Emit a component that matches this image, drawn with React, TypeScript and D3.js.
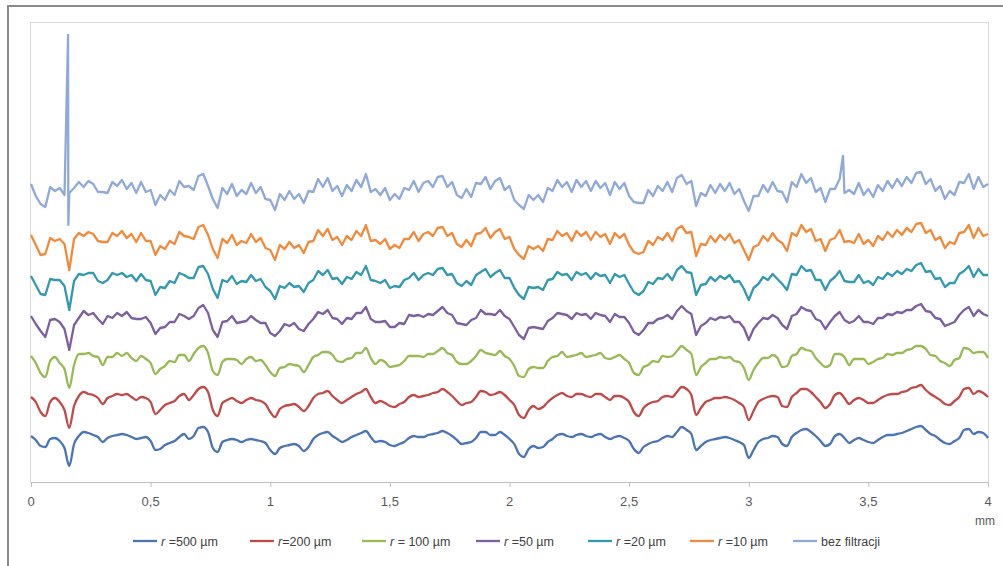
import React from "react";
import * as d3 from "d3";

// profile heights in 0.01 µm, sampled every 0.02 mm from 0 to 4 mm
const STEP_MM = 0.02;
const X_TICKS = [0, 0.5, 1, 1.5, 2, 2.5, 3, 3.5, 4];

const r500 = [
  4, 0, -6, -7, 1, 2, -1, -8, -26, -4, 4, 8, 7, 5, 3, -2, 2, 4, 5, 6,
  5, 3, 1, 2, 3, -1, -10, -9, -5, -3, -1, 3, 6, 1, 4, 12, 13, 8, -8, -12,
  -2, 0, 1, 0, -2, 0, 1, 0, -1, -3, -10, -14, -8, -6, -5, -4, -6, -11, -7, 1,
  5, 7, 8, 4, 1, -2, 0, 3, 5, 7, 9, 3, -2, -1, -2, -5, -6, -4, -2, 2,
  4, 3, 3, 5, 6, 7, 9, 7, 4, 0, -4, -3, -2, 2, 8, 8, 5, 5, 8, 5,
  1, -4, -14, -17, -9, -6, -8, -7, -2, 1, 5, 6, 4, 3, 5, 6, 4, 3, 5, 6,
  3, 1, 3, 4, 2, -1, -9, -13, -7, -4, -2, -1, 2, 4, 3, 8, 13, 10, 6, -10,
  -6, -2, 0, 1, 2, 3, 2, 0, -2, -5, -18, -10, -2, 1, 2, 4, 3, -4, -6, 3,
  7, 10, 11, 8, 4, -1, -6, -4, 4, 6, 2, -3, 0, 2, 0, -2, -3, 0, 3, 5,
  5, 6, 7, 9, 11, 13, 14, 10, 6, 4, 0, -3, -4, -1, 2, 10, 11, 6, 8, 7, 2,
];

const r200 = [
  3, -2, -12, -16, -2, 2, -2, -10, -28, -6, 4, 8, 6, 5, 2, -4, 2, 4, 6, 5,
  6, 3, 0, 3, 2, -2, -14, -10, -5, -3, -1, 4, 6, 0, 5, 11, 13, 8, -10, -16,
  -3, 0, 2, -1, -3, 0, 2, 0, -1, -4, -12, -17, -9, -6, -5, -4, -7, -11, -6, 2,
  6, 7, 9, 4, 0, -3, 0, 3, 6, 8, 11, 3, -3, -1, -3, -6, -7, -4, -2, 3,
  5, 3, 4, 5, 7, 8, 11, 8, 4, -1, -5, -3, -2, 3, 9, 8, 5, 6, 8, 5,
  0, -5, -15, -18, -10, -6, -9, -7, -2, 2, 5, 7, 4, 3, 6, 6, 4, 3, 6, 6,
  3, 0, 4, 4, 2, -2, -12, -16, -8, -4, -2, -1, 3, 4, 3, 8, 13, 11, 5, -15,
  -8, -2, 0, 2, 2, 3, 2, 0, -3, -7, -20, -11, -2, 1, 3, 4, 3, -6, -7, 3,
  7, 11, 11, 8, 3, -2, -8, -4, 5, 7, 2, -4, 0, 2, 0, -3, -3, 0, 3, 5,
  6, 6, 8, 9, 12, 13, 15, 10, 6, 3, 0, -4, -5, -1, 3, 11, 12, 6, 9, 7, 3,
];

const r100 = [
  4, -3, -13, -17, -1, 3, -3, -9, -28, -5, 6, 6, 7, 4, 3, -5, 3, 3, 7, 4,
  7, 2, -1, 4, 1, -3, -14, -9, -6, -1, -2, 5, 5, -1, 6, 12, 14, 7, -11, -15,
  -2, 1, 1, 0, -4, 1, 3, -1, 0, -5, -12, -16, -8, -7, -4, -5, -6, -12, -5, 3,
  5, 8, 8, 5, -1, -2, 1, 2, 7, 7, 12, 2, -4, 0, -2, -7, -6, -5, -1, 4,
  4, 4, 3, 6, 6, 9, 12, 7, 5, -2, -4, -4, -1, 4, 10, 7, 6, 5, 9, 4,
  1, -6, -16, -17, -9, -7, -8, -8, -1, 3, 4, 8, 3, 4, 5, 7, 3, 4, 5, 7,
  2, 1, 3, 5, 1, -3, -13, -15, -7, -5, -1, -2, 4, 3, 4, 9, 14, 10, 6, -15,
  -7, -3, 1, 1, 3, 2, 3, -1, -2, -8, -20, -10, -3, 2, 2, 5, 2, -7, -6, 4,
  6, 12, 10, 9, 2, -3, -7, -5, 6, 6, 3, -5, 1, 1, 1, -4, -2, 1, 2, 6,
  5, 7, 7, 10, 11, 14, 14, 11, 5, 4, -1, -3, -6, 0, 2, 12, 11, 7, 8, 8, 2,
];

const r50 = [
  4, -4, -11, -17, 0, 1, -2, -9, -30, -5, 2, 9, 5, 7, 1, -4, 4, 2, 7, 4,
  8, 2, 1, 1, 3, -3, -14, -8, -7, -2, -2, 6, 4, 1, 4, 12, 15, 7, -10, -17,
  -2, -1, 4, -3, -2, -1, 4, 0, -3, -3, -13, -16, -11, -4, -6, -3, -9, -11, -4, 1,
  8, 6, 10, 2, 1, -4, 2, 1, 7, 7, 13, 1, -2, -2, -1, -7, -7, -3, -4, 5,
  4, 5, 3, 6, 5, 9, 13, 7, 5, -3, -4, -5, 0, 2, 10, 6, 6, 5, 10, 4,
  1, -7, -15, -19, -8, -7, -8, -9, -1, 2, 7, 6, 5, 1, 7, 5, 6, 1, 7, 5,
  4, -2, 6, 3, 3, -3, -12, -15, -10, -3, -3, 1, 2, 5, 1, 9, 14, 9, 6, -15,
  -6, -3, 2, 0, 3, 2, 4, -2, -2, -8, -20, -9, -3, 2, 1, 5, 2, -5, -9, 4,
  6, 13, 10, 9, 1, -1, -9, -2, 4, 8, 0, -3, -1, 4, -2, -2, -4, 2, 2, 6,
  5, 8, 7, 10, 10, 14, 16, 9, 8, 2, 1, -6, -4, -2, 5, 10, 13, 4, 10, 6, 4,
];

const r20 = [
  4, -5, -14, -15, 1, 0, 0, -6, -30, -1, 6, 5, 7, 7, -1, -3, 0, 7, 5, 7,
  3, 5, -1, 6, 0, -1, -15, -7, -8, -1, -3, 7, 5, 2, 2, 13, 14, 6, -9, -18,
  0, -2, 4, -4, -1, -2, 5, -1, 1, -7, -11, -19, -6, -8, -3, -7, -6, -12, -3, 0,
  9, 5, 10, 1, 2, -4, 3, 1, 8, 5, 14, 0, -1, -3, 0, -8, -6, -7, 0, 2,
  7, 0, 5, 7, 5, 11, 12, 5, 6, -3, -6, -1, -5, 5, 8, 11, 3, 7, 10, 2,
  2, -8, -15, -19, -7, -8, -7, -10, 0, 1, 8, 5, 6, 0, 8, 5, 7, 1, 7, 4,
  5, -3, 6, 3, 5, -4, -12, -15, -11, -2, -4, 2, 1, 6, 0, 10, 14, 8, 7, -15,
  -5, -4, 3, -1, 4, 1, 5, -2, -1, -9, -20, -8, -4, 3, 0, 6, 1, -4, -10, 6,
  5, 14, 9, 10, 0, 0, -10, -1, 3, 9, -1, -2, -2, 5, -3, -1, -5, 3, 1, 7,
  4, 9, 6, 11, 9, 15, 17, 8, 9, 1, 2, -7, -3, -3, 6, 9, 14, 3, 11, 5, 5,
];

const r10 = [
  5, -5, -15, -14, 2, -1, 1, -4, -30, 1, 7, 4, 8, 6, -1, -2, -2, 7, 4, 9,
  2, 6, -2, 7, -1, -1, -15, -6, -9, -1, -4, 8, 4, 3, 1, 13, 15, 5, -9, -18,
  1, -3, 5, -5, -1, -3, 6, -2, 2, -8, -10, -20, -5, -9, -2, -8, -5, -13, -2, -1,
  10, 4, 11, 0, 3, -5, 4, 0, 9, 4, 15, -1, 0, -4, 1, -9, -5, -8, 1, 1,
  8, -1, 6, 8, 4, 12, 13, 4, 7, -4, -7, 0, -6, 6, 7, 12, 2, 8, 11, 1,
  3, -9, -15, -19, -6, -9, -6, -11, 1, 0, 9, 4, 7, -1, 9, 4, 8, 0, 8, 3,
  6, -4, 7, 2, 6, -5, -12, -14, -12, -1, -5, 3, 0, 7, -1, 11, 14, 7, 8, -16,
  -4, -5, 4, -2, 5, 0, 6, -3, 0, -10, -20, -7, -5, 4, -1, 7, 0, -3, -11, 7,
  4, 15, 8, 11, -1, 1, -11, 0, 2, 10, -2, -1, -3, 6, -4, 0, -6, 4, 0, 8,
  3, 10, 5, 12, 8, 16, 17, 7, 10, 0, 3, -8, -2, -4, 7, 8, 15, 2, 12, 4, 6,
];

const bez = [
  6, -6, -14, -17, 3, -1, 2, -5, -3, 2, 8, 3, 9, 6, -2, -2, -3, 8, 4, 10,
  1, 7, -3, 8, -2, 0, -15, -5, -10, 0, -5, 9, 3, 4, 0, 14, 16, 4, -9, -18,
  2, -4, 6, -6, 0, -4, 7, -3, 3, -9, -10, -20, -4, -10, -1, -9, -4, -13, -1, -2,
  11, 3, 12, -1, 4, -6, 5, -1, 10, 3, 16, -2, 1, -5, 2, -10, -4, -9, 2, 0,
  9, -2, 7, 9, 3, 13, 14, 3, 8, -5, -8, 1, -7, 7, 6, 13, 1, 9, 12, 0,
  4, -10, -15, -19, -5, -10, -5, -12, 2, -1, 10, 3, 8, -2, 10, 3, 9, -1, 9, 2,
  7, -5, 8, 1, 7, -6, -12, -13, -13, 0, -6, 4, -1, 8, -2, 12, 15, 6, 9, -16,
  -3, -6, 5, -3, 6, -1, 7, -4, 1, -11, -21, -6, -6, 5, -2, 8, -1, -2, -12, 8,
  3, 16, 7, 12, -2, 2, -12, 1, 1, 11, -3, 0, -4, 7, -5, 1, -7, 5, -1, 9,
  2, 11, 4, 13, 7, 17, 18, 6, 11, -1, 4, -9, -1, -5, 8, 7, 16, 1, 13, 3, 6,
];

// isolated peaks of the unfiltered profile: [mm, height]
const bezSpikes = [[0.155, 155], [0.156, -35], [3.394, 34]];

// vertical shift between plotted profiles (0.01 µm)
const offsets = [0, 40, 80, 120, 160, 200, 250];
const labels = ["r =500 µm", "r=200 µm", "r = 100 µm", "r =50 µm", "r =20 µm", "r =10 µm", "bez filtracji"];
const colors = ["#4a74b4", "#be4b48", "#98b954", "#7d5fa0", "#3299b0", "#f08a3c", "#8faad8"];

const W = 1003;
const H = 566;
const left = 31, right = 988, top = 22, bottom = 482;
const legendX = [133, 250, 362, 476, 588, 690, 793];
const FONT = "'Liberation Sans', Arial, sans-serif";

export default function App() {
  const x = d3.scaleLinear().domain([0, 4]).range([left, right]);
  const y = d3.scaleLinear().domain([-42, 418]).range([bottom, top]);

  const all = [r500, r200, r100, r50, r20, r10, bez];
  const series = all.map((vals, k) => {
    let pts = vals.map((v, i) => [i * STEP_MM, v]);
    if (k === 6) {
      pts = pts.concat(bezSpikes).sort((a, b) => a[0] - b[0]);
    }
    return pts.map(p => [p[0], p[1] + offsets[k]]);
  });

  const smoothLine = d3.line().x(d => x(d[0])).y(d => y(d[1])).curve(d3.curveMonotoneX);
  const roughLine = d3.line().x(d => x(d[0])).y(d => y(d[1]));

  const fmt = d => String(d).replace(".", ",");

  return (
    <svg width={W} height={H} style={{ position: "absolute", left: 0, top: 0, background: "#fff" }}>
      <rect x={8} y={6} width={1200} height={800} fill="none" stroke="#8a8a8a" strokeWidth={2} />
      <rect x={30.5} y={22.5} width={958} height={460} fill="none" stroke="#d9d9d9" strokeWidth={1} />

      {series.map((pts, k) => (
        <path key={k} d={(k < 3 ? smoothLine : roughLine)(pts)} fill="none" stroke={colors[k]}
          strokeWidth={2.3} strokeLinejoin="round" />
      ))}

      <line x1={left} x2={right} y1={bottom + 0.5} y2={bottom + 0.5} stroke="#bfbfbf" />
      {X_TICKS.map(t => (
        <g key={t}>
          <line x1={x(t) + 0.5} x2={x(t) + 0.5} y1={bottom} y2={bottom + 5} stroke="#bfbfbf" />
          <text x={x(t)} y={506} textAnchor="middle" fontFamily={FONT} fontSize={13} fill="#595959">{fmt(t)}</text>
        </g>
      ))}
      <text x={985} y={525} textAnchor="middle" fontFamily={FONT} fontSize={12} fill="#595959">mm</text>

      {labels.map((lab, k) => (
        <g key={lab} transform={`translate(${legendX[k]},541)`}>
          <line x1={0} x2={24} y1={0} y2={0} stroke={colors[k]} strokeWidth={2.3} />
          <text x={28} y={4.5} fontFamily={FONT} fontSize={12.5} fill="#404040">
            {lab.startsWith("r") ? (
              <>
                <tspan fontStyle="italic">r</tspan>
                <tspan>{lab.slice(1)}</tspan>
              </>
            ) : lab}
          </text>
        </g>
      ))}
    </svg>
  );
}
